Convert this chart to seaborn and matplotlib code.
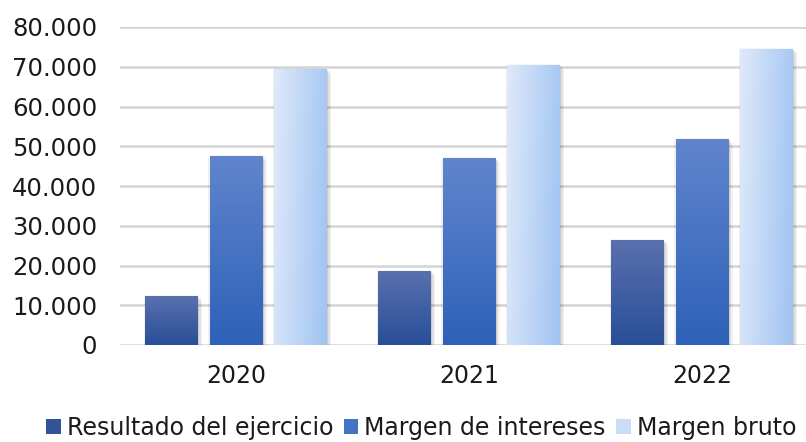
import numpy as np
import pandas as pd
import matplotlib
matplotlib.use("Agg")
import matplotlib.pyplot as plt
import matplotlib.patheffects as pe
from matplotlib.patches import Patch
from matplotlib.colors import to_rgb
import seaborn as sns

# ---- data ----
years = ["2020", "2021", "2022"]
series = ["Resultado del ejercicio", "Margen de intereses", "Margen bruto"]
resultado = [12300, 18600, 26400]
margen_intereses = [47500, 47000, 51800]
margen_bruto = [69400, 70400, 74400]
y_ticks = [0, 10000, 20000, 30000, 40000, 50000, 60000, 70000, 80000]
y_tick_labels = ["0", "10.000", "20.000", "30.000", "40.000", "50.000", "60.000", "70.000", "80.000"]

df = pd.DataFrame({
    "Año": years * 3,
    "Serie": [series[0]] * 3 + [series[1]] * 3 + [series[2]] * 3,
    "Valor": resultado + margen_intereses + margen_bruto,
})

# ---- styles ----
base_colors = ["#3a5ea8", "#4472c4", "#bcd4f5"]
legend_colors = ["#2f5597", "#4472c4", "#c9ddf7"]
grads = [
    ("#5a70ae", "#284f98", "v"),   # top -> bottom
    ("#6085cd", "#2e61b8", "v"),
    ("#dfe9fa", "#9fc3f2", "h"),   # left -> right
]

sns.set_theme(style="white")
plt.rcParams["font.family"] = ["DejaVu Sans"]

W, H = 806, 442
fig = plt.figure(figsize=(W / 100, H / 100), dpi=100)
left_px, right_px, bottom_px, top_px = 119.5, 818.5, 345, 27
ax = fig.add_axes([left_px / W, 1 - bottom_px / H, (right_px - left_px) / W, (bottom_px - top_px) / H])

sns.barplot(data=df, x="Año", y="Valor", hue="Serie", order=years, hue_order=series,
            palette=base_colors, width=0.83, gap=0.178, ax=ax, legend=False,
            err_kws={"linewidth": 0}, saturation=1)

ax.set_ylim(0, 80000)
ax.set_xlim(-0.5, 2.5)
ax.set_yticks(y_ticks)
ax.set_yticklabels(y_tick_labels)
ax.set_xlabel("")
ax.set_ylabel("")
for s in ax.spines.values():
    s.set_visible(False)
ax.yaxis.grid(True, color="#d4d4d4", linewidth=1.8, zorder=0)
ax.set_axisbelow(True)
ax.tick_params(axis="y", length=0, pad=16, labelsize=17.5, labelcolor="#1a1a1a")
ax.tick_params(axis="x", length=0, pad=14, labelsize=17, labelcolor="#1a1a1a")

shadow = [
    pe.SimplePatchShadow(offset=(3.0, -2.5), shadow_rgbFace="#000000", alpha=0.05),
    pe.SimplePatchShadow(offset=(2.0, -1.5), shadow_rgbFace="#000000", alpha=0.07),
    pe.SimplePatchShadow(offset=(1.0, -0.8), shadow_rgbFace="#000000", alpha=0.09),
    pe.SimplePatchShadow(offset=(-1.0, -0.8), shadow_rgbFace="#000000", alpha=0.06),
    pe.SimplePatchShadow(offset=(0.0, 1.0), shadow_rgbFace="#000000", alpha=0.04),
    pe.Normal(),
]
n = len(years)
for i, bar in enumerate(ax.patches[: n * len(series)]):
    si = i // n
    c0, c1, d = grads[si]
    a0, a1 = np.array(to_rgb(c0)), np.array(to_rgb(c1))
    t = np.linspace(0, 1, 128)
    if d == "v":
        img = (a0[None, :] * (1 - t[:, None]) + a1[None, :] * t[:, None])[:, None, :]
    else:
        tt = t[None, :] * 0.85 + t[:, None] * 0.15
        img = a0[None, None, :] * (1 - tt[..., None]) + a1[None, None, :] * tt[..., None]
    x0, y0 = bar.get_x(), bar.get_y()
    w, h = bar.get_width(), bar.get_height()
    bar.set_edgecolor("none")
    bar.set_path_effects(shadow)
    im = ax.imshow(img, extent=(x0, x0 + w, y0, y0 + h), origin="upper",
                   aspect="auto", zorder=bar.get_zorder() + 0.1, interpolation="bilinear")
    im.set_clip_path(bar)
ax.set_xlim(-0.5, 2.5)
ax.set_ylim(0, 80000)

handles = [Patch(facecolor=c, edgecolor="none") for c in legend_colors]
fig.legend(handles, series, loc="center left", bbox_to_anchor=(46 / W, 1 - 428 / H), ncol=3,
           frameon=False, fontsize=17.0, handlelength=0.62, handleheight=0.62,
           handletextpad=0.25, columnspacing=0.45, borderpad=0, borderaxespad=0,
           labelcolor="#1a1a1a")

fig.savefig("out.png", dpi=100)
